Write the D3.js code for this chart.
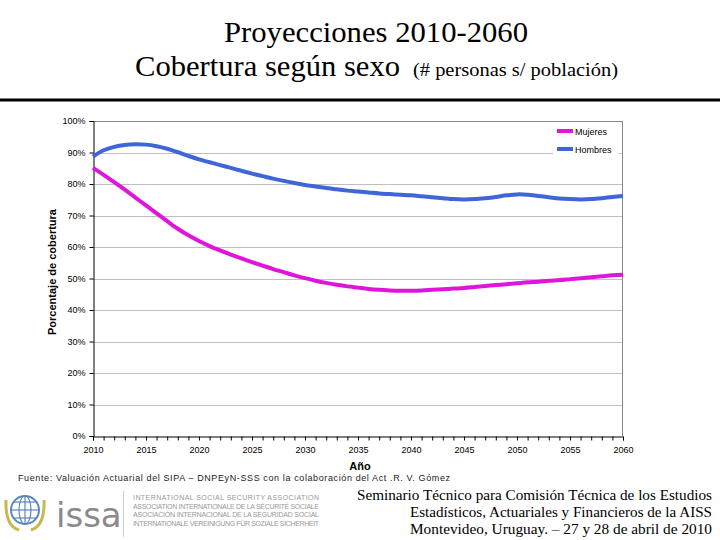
<!DOCTYPE html>
<html><head><meta charset="utf-8">
<script src="https://cdn.jsdelivr.net/npm/d3@7"></script>
<style>body{margin:0;background:#fff}svg{display:block}</style>
</head><body>
<script>
const years = d3.range(2010, 2061);
const mujeres = [85.1,82.9,80.6,78.2,75.7,73.2,70.7,68.2,65.8,63.7,61.9,60.3,58.9,57.6,56.4,55.2,54.1,53.0,52.0,51.0,50.1,49.3,48.6,48.0,47.5,47.1,46.7,46.4,46.2,46.1,46.1,46.2,46.4,46.6,46.8,47.0,47.3,47.6,47.9,48.2,48.5,48.8,49.0,49.3,49.5,49.8,50.1,50.4,50.7,51.0,51.2];
const hombres = [88.7,90.7,91.8,92.4,92.6,92.5,92.0,91.2,90.1,88.9,87.8,86.9,86.0,85.1,84.2,83.3,82.5,81.7,81.0,80.3,79.7,79.2,78.7,78.3,77.9,77.6,77.3,77.0,76.8,76.6,76.4,76.1,75.8,75.5,75.2,75.1,75.2,75.5,75.9,76.4,76.7,76.6,76.2,75.8,75.4,75.2,75.1,75.2,75.5,75.9,76.2];
const yTicks = [0,10,20,30,40,50,60,70,80,90,100];
const xTicks = [2010,2015,2020,2025,2030,2035,2040,2045,2050,2055,2060];
const seriesNames = ["Mujeres","Hombres"];
const seriesColors = ["#e015dc","#3f66d8"];

const W=720,H=540;
const svg=d3.select("body").append("svg").attr("width",W).attr("height",H);
const x=d3.scaleLinear().domain([2010,2060]).range([93,623]);
const y=d3.scaleLinear().domain([0,100]).range([436,121]);
const serif="Liberation Serif, DejaVu Serif, serif";
const sans="Liberation Sans, Arial, sans-serif";

// Title
svg.append("text").attr("x",224).attr("y",42)
  .attr("font-family",serif).attr("font-size",30).attr("fill","#000")
  .attr("textLength",304).attr("lengthAdjust","spacingAndGlyphs")
  .text("Proyecciones 2010-2060");
svg.append("text").attr("x",135).attr("y",76).attr("font-family",serif).attr("font-size",30).attr("fill","#000")
  .attr("textLength",265).attr("lengthAdjust","spacingAndGlyphs").text("Cobertura según sexo");
svg.append("text").attr("x",413).attr("y",76).attr("font-family",serif).attr("font-size",19).attr("fill","#000")
  .attr("textLength",205).attr("lengthAdjust","spacingAndGlyphs").text("(# personas s/ población)");
svg.append("rect").attr("x",0).attr("y",98.5).attr("width",720).attr("height",3).attr("fill","#000");

// gridlines
svg.append("g").selectAll("line").data(yTicks.filter(d=>d>0)).join("line")
  .attr("x1",93).attr("x2",623).attr("y1",d=>Math.round(y(d))+0.5).attr("y2",d=>Math.round(y(d))+0.5)
  .attr("stroke",d=>d===100?"#888":"#c0c0c0").attr("stroke-width",1);
svg.append("line").attr("x1",622.5).attr("x2",622.5).attr("y1",121).attr("y2",436).attr("stroke","#888");

// axes
const yAxis=d3.axisLeft(y).tickValues(yTicks).tickFormat(d=>d+"%").tickSize(4).tickPadding(4);
const gy=svg.append("g").attr("transform","translate(93.5,0)").call(yAxis);
const xAxis=d3.axisBottom(x).tickValues(years).tickFormat(d=>xTicks.includes(d)?d:"").tickSize(4).tickPadding(4);
const gx=svg.append("g").attr("transform","translate(0,436.5)").call(xAxis);
[gy,gx].forEach(g=>{g.select(".domain").attr("stroke","#000");g.selectAll(".tick line").attr("stroke","#000");
  g.selectAll("text").attr("font-family",sans).attr("font-size",9).attr("fill","#000");});
gx.selectAll("text").attr("dy","0.9em");

// axis titles
svg.append("text").attr("x",360).attr("y",470).attr("text-anchor","middle")
  .attr("font-family",sans).attr("font-weight","bold").attr("font-size",11).text("Año");
svg.append("text").attr("transform","translate(56,272) rotate(-90)").attr("text-anchor","middle")
  .attr("font-family",sans).attr("font-weight","bold").attr("font-size",11).text("Porcentaje de cobertura");

// lines
const line=d3.line().x((d,i)=>x(years[i])).y(d=>y(d)).curve(d3.curveCatmullRom);
[mujeres,hombres].forEach((s,i)=>{
  svg.append("path").datum(s).attr("d",line).attr("fill","none").attr("stroke",seriesColors[i]).attr("stroke-width",4).attr("stroke-linejoin","round");
});

// legend
svg.append("rect").attr("x",553).attr("y",123).attr("width",66).attr("height",33).attr("fill","#fff");
seriesNames.forEach((n,i)=>{
  const yy=131+i*18;
  svg.append("line").attr("x1",557).attr("x2",573).attr("y1",yy).attr("y2",yy).attr("stroke",seriesColors[i]).attr("stroke-width",4);
  svg.append("text").attr("x",575).attr("y",yy+3.5).attr("font-family",sans).attr("font-size",9).text(n);
});

// footer source
svg.append("text").attr("x",18).attr("y",481).attr("font-family",sans).attr("font-size",9).attr("fill","#222")
  .attr("textLength",432).text("Fuente: Valuación Actuarial del SIPA – DNPEyN-SSS con la colaboración del Act .R. V. Gómez");

// ISSA logo
const lg=svg.append("g");
lg.append("circle").attr("cx",25).attr("cy",510).attr("r",14).attr("fill","none").attr("stroke","#5b87c0").attr("stroke-width",2);
lg.append("ellipse").attr("cx",25).attr("cy",510).attr("rx",6).attr("ry",14).attr("fill","none").attr("stroke","#5b87c0").attr("stroke-width",1.2);
lg.append("line").attr("x1",25).attr("x2",25).attr("y1",496).attr("y2",524).attr("stroke","#5b87c0").attr("stroke-width",1.2);
[-8,0,8].forEach(dy=>{const hw=Math.sqrt(196-dy*dy);
  lg.append("line").attr("x1",25-hw).attr("x2",25+hw).attr("y1",510+dy).attr("y2",510+dy).attr("stroke","#5b87c0").attr("stroke-width",1.2);});
[-1,1].forEach(s=>{
  lg.append("path").attr("d",`M${25+s*6},530 Q${25+s*20},526 ${25+s*19},500`).attr("fill","none").attr("stroke","#c8b850").attr("stroke-width",3);
});
lg.append("text").attr("x",56).attr("y",527).attr("font-family","DejaVu Sans, sans-serif").attr("font-size",34).attr("fill","#8a8a8a").text("issa");
lg.append("line").attr("x1",123.5).attr("x2",123.5).attr("y1",491).attr("y2",537).attr("stroke","#ccc");
["INTERNATIONAL SOCIAL SECURITY ASSOCIATION","ASSOCIATION INTERNATIONALE DE LA SÉCURITÉ SOCIALE","ASOCIACIÓN INTERNACIONAL DE LA SEGURIDAD SOCIAL","INTERNATIONALE VEREINIGUNG FÜR SOZIALE SICHERHEIT"].forEach((t,i)=>{
  lg.append("text").attr("x",133).attr("y",500+i*8.5).attr("font-family","Liberation Sans Narrow, Liberation Sans, sans-serif").attr("font-size",7).attr("fill","#999").attr("textLength",186).text(t);
});

// seminar text
[["Seminario Técnico para Comisión Técnica de los Estudios",355],["Estadísticos, Actuariales y Financieros de la AISS",302],["Montevideo, Uruguay. – 27 y 28 de abril de 2010",302]].forEach(([t,w],i)=>{
  svg.append("text").attr("x",712-w).attr("y",500+i*17).attr("font-family",serif).attr("font-size",15).attr("fill","#000")
    .attr("textLength",w).attr("lengthAdjust","spacingAndGlyphs").text(t);
});
</script>
</body></html>
